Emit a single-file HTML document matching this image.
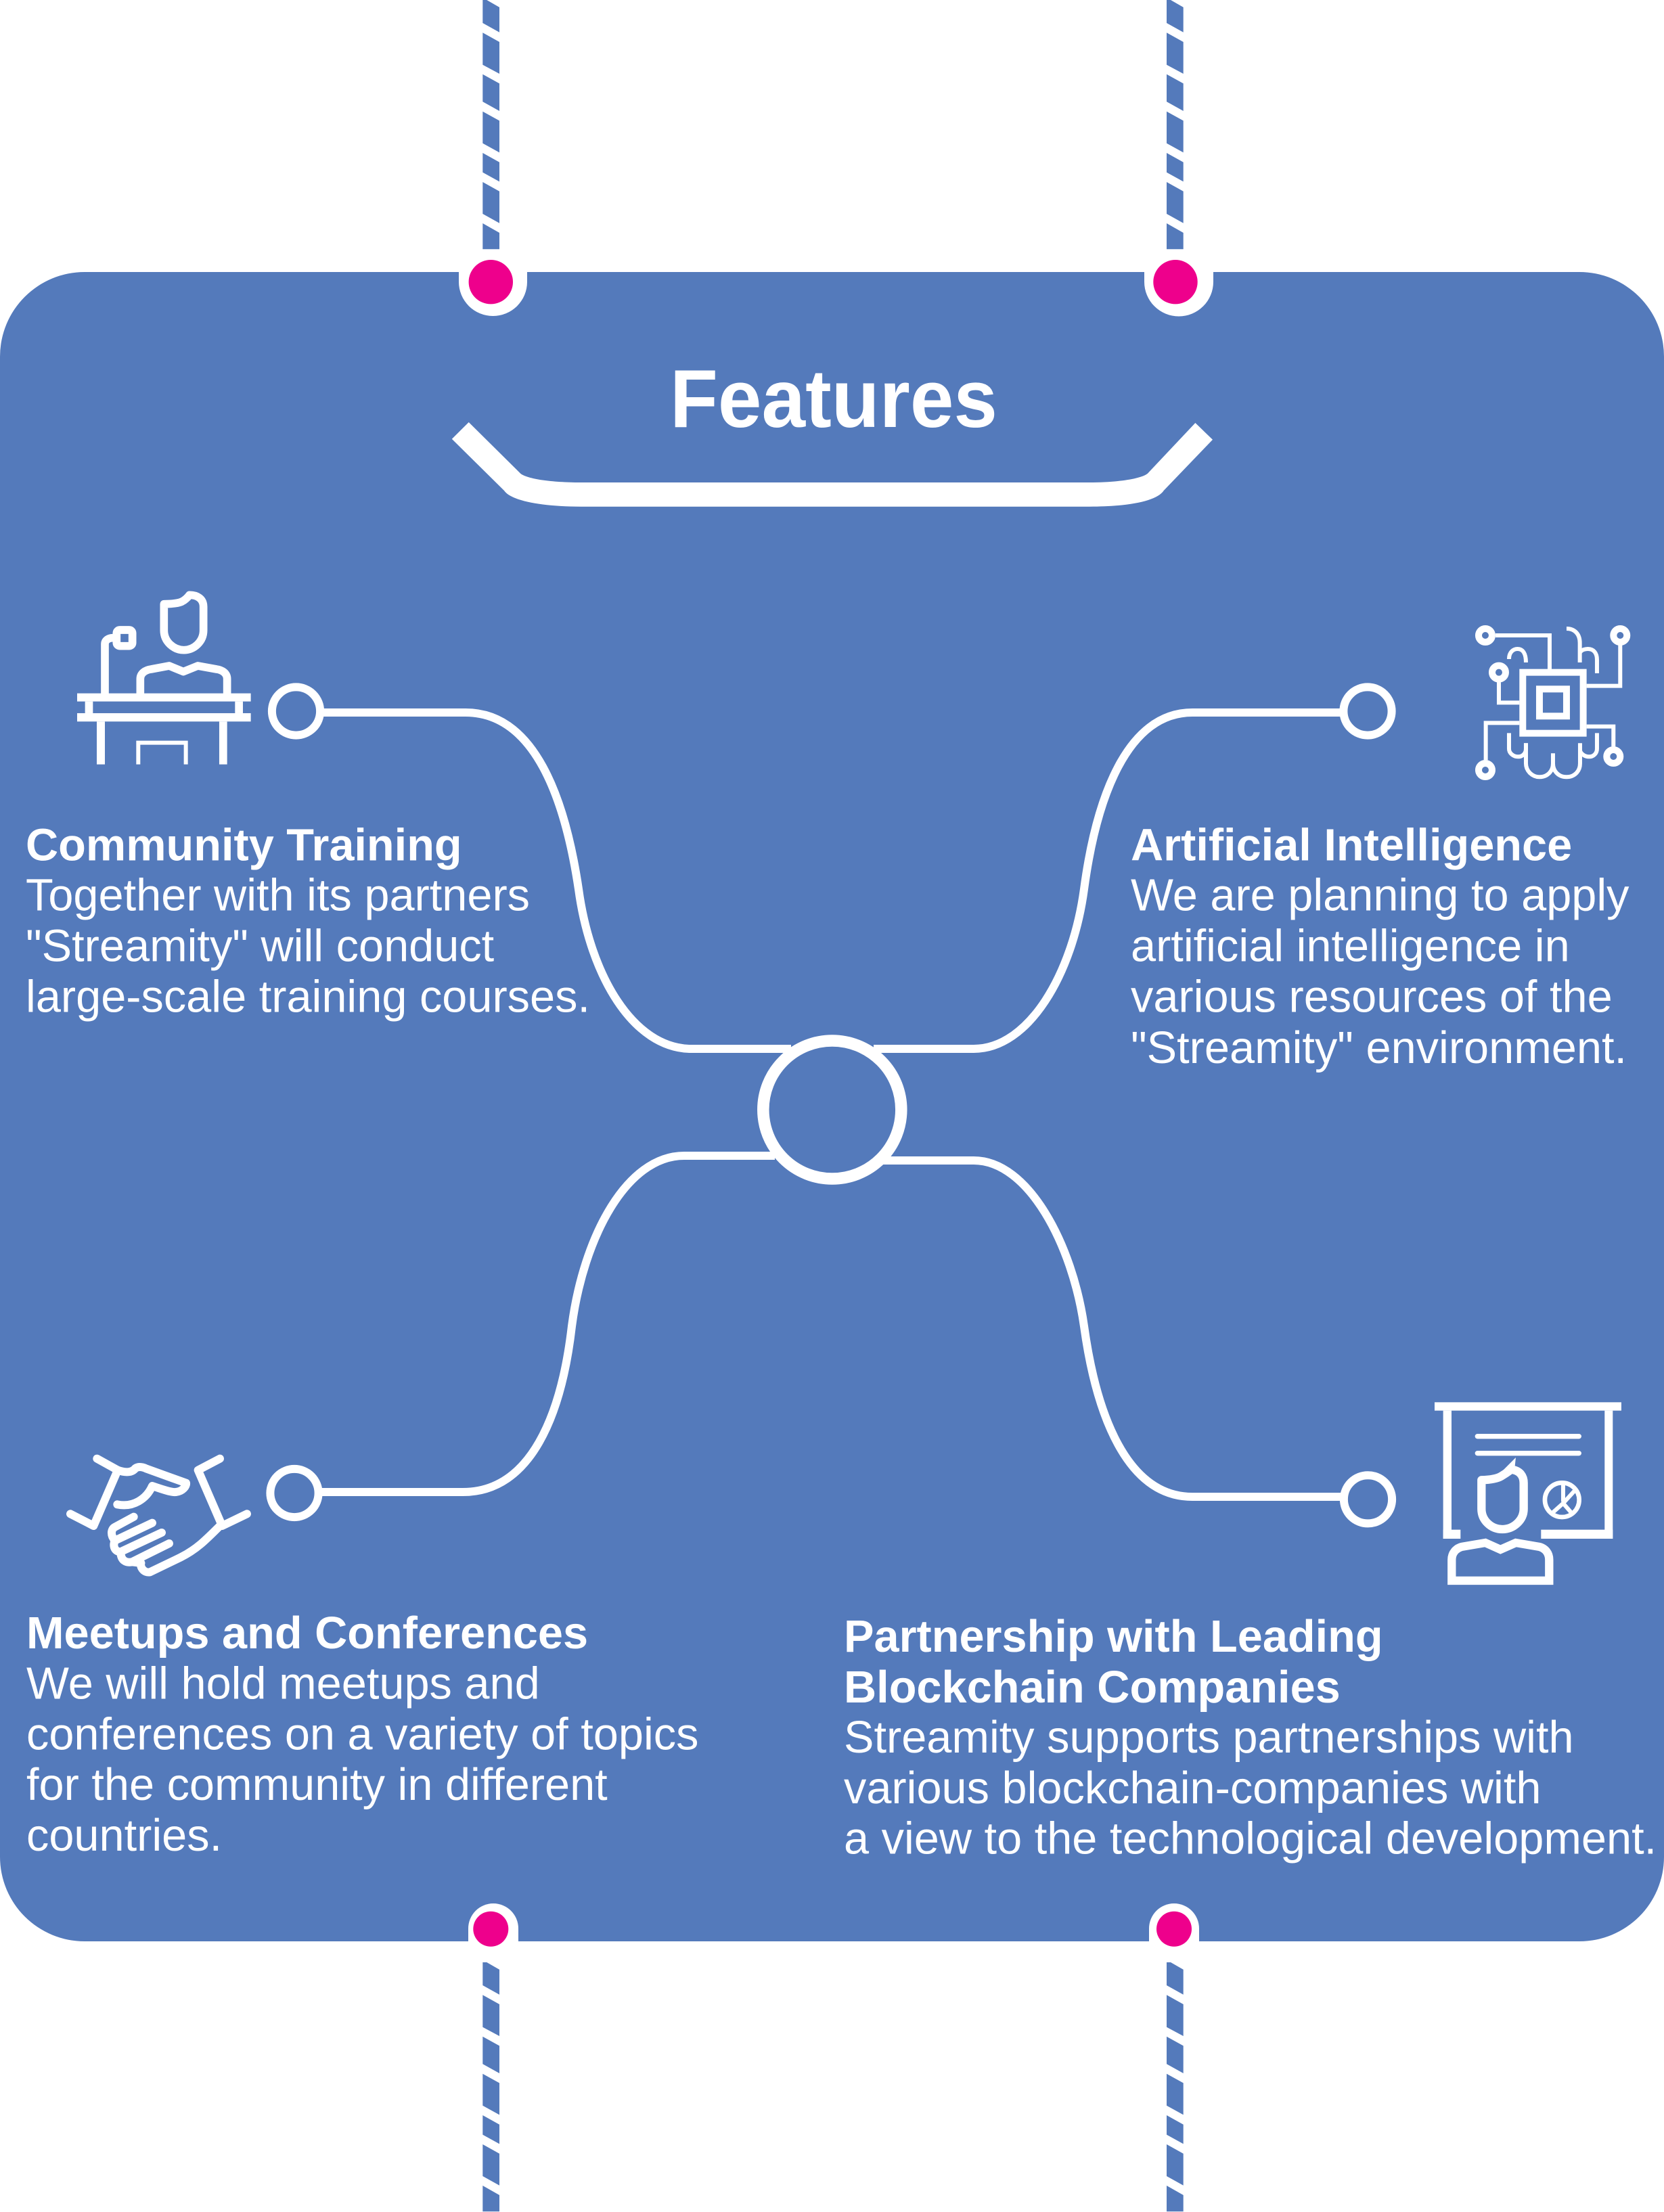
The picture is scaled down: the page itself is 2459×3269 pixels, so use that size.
<!DOCTYPE html>
<html>
<head>
<meta charset="utf-8">
<title>Features</title>
<style>
html,body{margin:0;padding:0;background:#fff;width:2459px;height:3269px;overflow:hidden}
svg{display:block}
text{font-family:"Liberation Sans",Arial,sans-serif;fill:#fff;font-size:66.7px}
.b{font-weight:700}
.ln{fill:none;stroke:#fff;stroke-width:12}
.z{fill:none;stroke:#fff}
</style>
</head>
<body>
<svg xmlns="http://www.w3.org/2000/svg" width="2459" height="3269" viewBox="0 0 2459 3269">
<defs>
<g id="stripe">
<polygon points="0,0 6,0 24.7,10.7 24.7,47.7 0,34"/>
<polygon points="0,48.3 24.7,62 24.7,109 0,95.7"/>
<polygon points="0,109.7 24.7,123.4 24.7,164 0,150.3"/>
<polygon points="0,164.7 24.7,178.4 24.7,225.4 0,211.7"/>
<polygon points="0,226 24.7,239.7 24.7,268.4 0,254.7"/>
<polygon points="0,269 24.7,282.7 24.7,329.7 0,316"/>
<polygon points="0,330 24.7,344 24.7,368.3 0,368.3"/>
</g>
</defs>
<rect width="2459" height="3269" fill="#fff"/>
<rect x="0" y="402" width="2459" height="2467" rx="125" ry="125" fill="#547abb"/>

<!-- stripes -->
<g fill="#547abb">
<use href="#stripe" x="713.3" y="0"/>
<use href="#stripe" x="1724" y="0"/>
<use href="#stripe" x="713.3" y="2900"/>
<use href="#stripe" x="1724" y="2900"/>
</g>

<!-- notches and pins -->
<g fill="#fff">
<path d="M678 395H779V416.5A50.5 50.5 0 0 1 678 416.5Z"/>
<path d="M1691 395H1793V416.5A51 51 0 0 1 1691 416.5Z"/>
<path d="M692 2875V2850A37 37 0 0 1 766 2850V2875Z"/>
<path d="M1698 2875V2850A37 37 0 0 1 1772 2850V2875Z"/>
</g>
<g fill="#ee008c">
<circle cx="725.3" cy="416.7" r="32.7"/>
<circle cx="1737" cy="416.7" r="32.7"/>
<circle cx="725.3" cy="2850.7" r="26"/>
<circle cx="1735" cy="2850.7" r="26"/>
</g>

<!-- heading -->
<text class="b" x="990" y="631" style="font-size:122px" textLength="484" lengthAdjust="spacingAndGlyphs">Features</text>
<path fill="#fff" d="M692.7 624L667.8 648.7L745 725C755 740 800 748.7 858 748.7H1610C1670 748.7 1710 740 1719.7 725L1792 649.7L1766.4 625L1695.7 700C1685 708 1650 713 1610 713H858C815 713 780 708 769.4 700Z"/>

<!-- connectors -->
<path class="ln" d="M473 1053H688C790 1053 835 1180 855 1314C872 1440 935 1550 1022 1550H1169"/>
<path class="ln" d="M1987 1053H1762C1665 1053 1620 1180 1602 1314C1585 1440 1520 1550 1439 1550H1291"/>
<path class="ln" d="M470 2205H684C785 2205 830 2090 845 1960C862 1830 925 1708 1011 1708H1145"/>
<path class="ln" d="M1987 2212H1762C1665 2212 1620 2090 1602 1960C1585 1840 1520 1715 1439 1715H1300"/>
<circle cx="1229.8" cy="1640" r="102" fill="none" stroke="#fff" stroke-width="17.5"/>
<g fill="none" stroke="#fff" stroke-width="12">
<circle cx="437.5" cy="1051" r="35.6"/>
<circle cx="2021" cy="1051" r="35.6"/>
<circle cx="435" cy="2206.5" r="35.6"/>
<circle cx="2021.5" cy="2215.8" r="35.6"/>
</g>

<!-- icon: speaker at desk -->
<g transform="translate(60 840) scale(.3333)">
<g class="z" stroke-width="35" stroke-linejoin="round">
<path d="M547 158Q600 158 625 148Q645 138 660 118C695 118 722 135 722 170V275C722 325 680 362 635 362C590 362 547 325 547 275Z"/>
<path d="M442 555V490C442 465 465 450 490 447L570 432L633 458L697 432L780 447C805 450 827 465 827 490V555"/>
<path d="M285 555V335C285 320 300 308 320 308"/>
<rect x="337" y="273" width="70" height="71" rx="14"/>
</g>
<g fill="#fff">
<rect x="162" y="554" width="770" height="36"/>
<rect x="162" y="642" width="770" height="37"/>
<rect x="197" y="590" width="35" height="52"/>
<rect x="862" y="590" width="35" height="52"/>
<rect x="249" y="679" width="36" height="190"/>
<rect x="792" y="679" width="35" height="190"/>
</g>
<path class="z" stroke-width="18" d="M433 869V773H644V869"/>
</g>

<!-- icon: chip -->
<g transform="translate(1940 880) scale(.3333)">
<g class="z" stroke-width="30">
<rect x="931" y="341" width="268" height="270"/>
<rect x="1005" y="415" width="120" height="120"/>
<circle cx="765" cy="177" r="30"/>
<circle cx="1363" cy="177" r="30"/>
<circle cx="825" cy="341" r="30"/>
<circle cx="1333" cy="714" r="30"/>
<circle cx="765" cy="774" r="30"/>
</g>
<g class="z" stroke-width="18">
<path d="M810 177H1050V330"/>
<path d="M825 385V475H916"/>
<path d="M1363 220V401H1214"/>
<path d="M916 565H767V730"/>
<path d="M1214 581H1333V670"/>
<path d="M870 282C870 250 890 237 908 237C930 237 945 255 945 297"/>
<path d="M1125 147C1160 147 1184 170 1184 210V297"/>
<path d="M1184 255C1190 240 1210 237 1220 237C1245 237 1260 255 1260 285V345"/>
<path d="M870 610V680C870 700 890 715 910 715C930 715 945 700 945 680V655"/>
<path d="M945 655V745C945 780 975 805 1005 805C1040 805 1065 780 1065 745V700"/>
<path d="M1065 745C1065 780 1090 805 1125 805C1160 805 1185 780 1185 745V655"/>
<path d="M1185 685C1185 700 1205 715 1225 715C1245 715 1260 700 1260 680V610"/>
</g>
</g>

<!-- icon: handshake -->
<g transform="translate(70 2120) scale(.3333)">
<g class="z" stroke-width="36" stroke-linecap="round" stroke-linejoin="round">
<path d="M220 107L312 158L205 405L102 352"/>
<path d="M765 107L668 158L775 405L885 352"/>
<path d="M312 158C345 170 375 170 390 150C405 140 425 145 440 152L615 215C618 228 600 252 570 255C550 258 500 240 465 228C440 285 380 325 310 310"/>
<path d="M765 405C700 470 660 510 590 545L455 610C430 615 410 590 415 570"/>
<path d="M383 365L300 410C280 420 280 450 300 470L465 392"/>
<path d="M300 470C290 490 295 520 325 520L507 435"/>
<path d="M325 520C325 560 350 570 375 565L540 483"/>
<path d="M375 565L415 570"/>
</g>
</g>

<!-- icon: presenter -->
<g transform="translate(1960 2050) scale(.3333)">
<g fill="#fff">
<rect x="480" y="67" width="828" height="37"/>
<rect x="518" y="104" width="37" height="568"/>
<rect x="518" y="632" width="77" height="40"/>
<rect x="1234" y="104" width="36" height="568"/>
<rect x="952" y="632" width="318" height="40"/>
<polygon points="840,312 770,382 835,360"/>
</g>
<g class="z" stroke-width="22" stroke-linecap="round">
<path d="M670 218H1120"/>
<path d="M670 293H1120"/>
</g>
<g class="z" stroke-width="37" stroke-linejoin="round">
<path d="M688 412Q750 410 775 395Q800 380 820 365C860 370 875 395 875 425V540C875 590 830 630 780 630C730 630 688 590 688 540Z"/>
<path d="M556 858V765C556 735 575 715 600 708L705 690L772 720L840 690L945 708C970 715 988 735 988 765V858Z" stroke-linejoin="miter"/>
</g>
<circle class="z" cx="1045" cy="500" r="76" stroke-width="20"/>
<path class="z" stroke-width="18" d="M1050 430V508M1050 515L1005 555M1050 515L1085 555M1050 515L1100 460"/>
</g>

<!-- text blocks -->
<text class="b" x="38" y="1271.7">Community Training</text>
<text x="38" y="1345.7">Together with its partners</text>
<text x="38" y="1420.7">"Streamity" will conduct</text>
<text x="38" y="1495.7">large-scale training courses.</text>

<text class="b" x="1671" y="1271.7">Artificial Intelligence</text>
<text x="1671" y="1345.7">We are planning to apply</text>
<text x="1671" y="1420.7">artificial intelligence in</text>
<text x="1671" y="1495.7">various resources of the</text>
<text x="1671" y="1571">"Streamity" environment.</text>

<text class="b" x="39" y="2436">Meetups and Conferences</text>
<text x="39" y="2510.7">We will hold meetups and</text>
<text x="39" y="2585.7">conferences on a variety of topics</text>
<text x="39" y="2660">for the community in different</text>
<text x="39" y="2735">countries.</text>

<text class="b" x="1247" y="2441">Partnership with Leading</text>
<text class="b" x="1247" y="2516">Blockchain Companies</text>
<text x="1247" y="2590">Streamity supports partnerships with</text>
<text x="1247" y="2665">various blockchain-companies with</text>
<text x="1247" y="2739.3">a view to the technological development.</text>
</svg>
</body>
</html>
